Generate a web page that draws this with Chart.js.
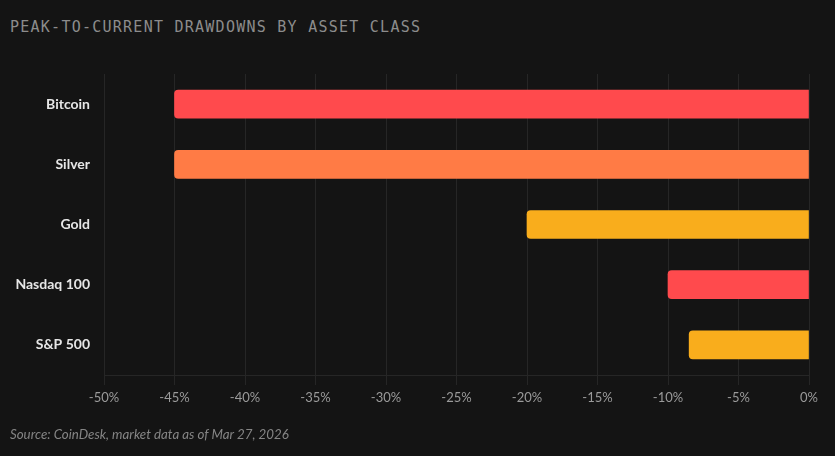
<!DOCTYPE html>
<html>
<head>
<meta charset="utf-8">
<script src="https://cdn.jsdelivr.net/npm/chart.js@4"></script>
<style>
  html, body { margin: 0; padding: 0; background: #141414; }
  #wrap { position: relative; width: 835px; height: 456px; }
  #title {
    position: absolute; left: 10px; top: 18px;
    font-family: "DejaVu Sans Mono", monospace; font-size: 15px;
    letter-spacing: 1.25px; color: #8c8c8c;
  }
  #source {
    position: absolute; left: 10px; top: 426px;
    font-family: Lato, sans-serif; font-style: italic; font-size: 13.3px; color: #858585;
  }
  canvas { position: absolute; left: 0; top: 0; }
</style>
</head>
<body>
<div id="wrap">
  <div id="title">PEAK-TO-CURRENT DRAWDOWNS BY ASSET CLASS</div>
  <canvas id="drawdownChart" width="835" height="456"></canvas>
  <div id="source">Source: CoinDesk, market data as of Mar 27, 2026</div>
</div>
<script>
// Datos del grafico
const assets = ["Bitcoin", "Silver", "Gold", "Nasdaq 100", "S&P 500"];
const drawdowns = [-45, -45, -20, -10, -8.5];
const barColors = ["#ff4a4d", "#ff7b45", "#f9ad1c", "#ff4a4d", "#f9ad1c"];

const ctx = document.getElementById("drawdownChart").getContext("2d");
new Chart(ctx, {
  type: "bar",
  data: {
    labels: assets,
    datasets: [{
      data: drawdowns,
      backgroundColor: barColors,
      borderRadius: 4,
      borderSkipped: "start",
      barThickness: 28,
    }],
  },
  options: {
    indexAxis: "y",
    responsive: false,
    animation: false,
    layout: { padding: { top: 74, right: 26, left: 0, bottom: 0 } },
    plugins: { legend: { display: false }, tooltip: { enabled: false } },
    scales: {
      x: {
        min: -50,
        max: 0,
        ticks: {
          stepSize: 5,
          color: "#9a9a9a",
          padding: 5,
          font: { family: "Lato", size: 13 },
          callback: (v) => v + "%",
        },
        grid: { color: "#262626", tickLength: 10, drawTicks: true },
        border: { color: "#262626" },
        afterFit: (scale) => { scale.height = 81; },
      },
      y: {
        ticks: {
          color: "#e6e6e6",
          padding: 6,
          font: { family: "Lato", size: 14, weight: "bold" },
        },
        grid: { display: false },
        border: { display: false },
        afterFit: (scale) => { scale.width = 104; },
      },
    },
  },
});
</script>
</body>
</html>
